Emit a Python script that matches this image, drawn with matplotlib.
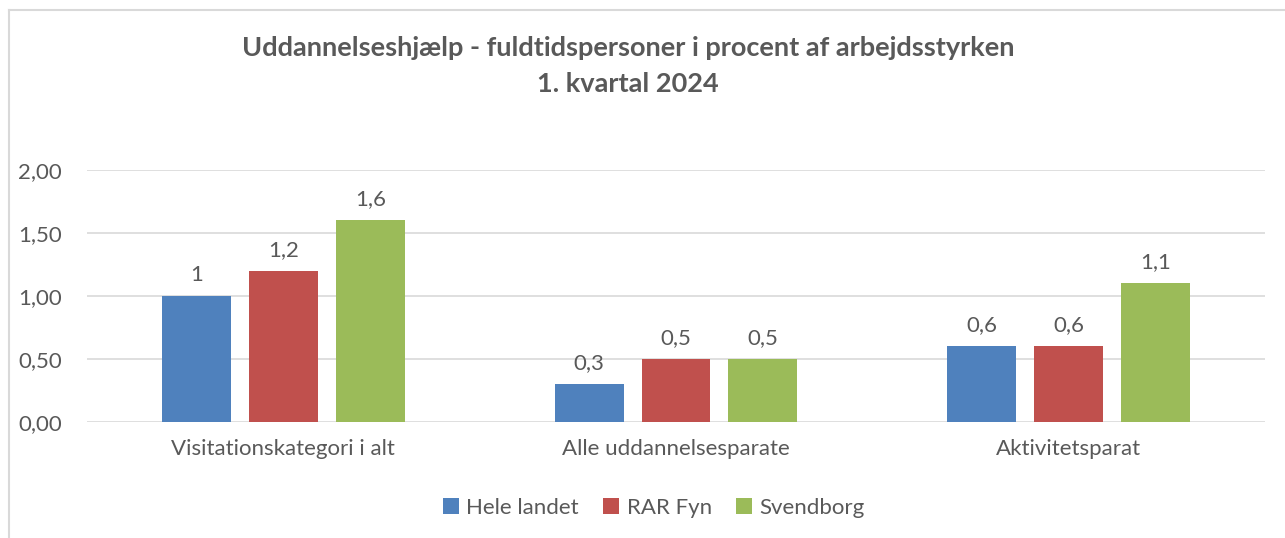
import numpy as np
import matplotlib
matplotlib.use("Agg")
import matplotlib.pyplot as plt
from matplotlib.lines import Line2D

categories = ["Visitationskategori i alt", "Alle uddannelsesparate", "Aktivitetsparat"]
series_names = ["Hele landet", "RAR Fyn", "Svendborg"]
hele_landet = [1.0, 0.3, 0.6]
rar_fyn = [1.2, 0.5, 0.6]
svendborg = [1.6, 0.5, 1.1]
labels_hele = ["1", "0,3", "0,6"]
labels_rar = ["1,2", "0,5", "0,6"]
labels_svend = ["1,6", "0,5", "1,1"]
yticks = [0.0, 0.5, 1.0, 1.5, 2.0]
ytick_labels = ["0,00", "0,50", "1,00", "1,50", "2,00"]

colors = ["#4F81BD", "#C0504D", "#9BBB59"]
txt = "#595959"
plt.rcParams['font.family'] = ['Lato', 'DejaVu Sans']
fs = 16

fig = plt.figure(figsize=(12.85, 5.38), dpi=100)
ax = fig.add_axes([87/1285, 1-422/538, (1265-87)/1285, (422-170)/538])

x = np.arange(len(categories))
width = 0.1757
step = 0.2215
all_vals = [hele_landet, rar_fyn, svendborg]
all_labels = [labels_hele, labels_rar, labels_svend]
for i in range(3):
    bars = ax.bar(x + (i-1)*step, all_vals[i], width, color=colors[i], label=series_names[i], zorder=3)
    for rect, lab in zip(bars, all_labels[i]):
        ax.annotate(lab, xy=(rect.get_x()+rect.get_width()/2, rect.get_height()),
                    xytext=(0, 8), textcoords="offset points", ha='center', va='bottom',
                    fontsize=fs, color=txt)

ax.set_xlim(-0.5, 2.5)
ax.set_ylim(0, 2.0)
ax.set_yticks(yticks)
ax.set_yticklabels(ytick_labels, fontsize=fs, color=txt)
ax.set_xticks(x)
ax.set_xticklabels(categories, fontsize=fs, color=txt)
ax.tick_params(length=0)
ax.tick_params(axis='y', pad=18)
ax.tick_params(axis='x', pad=12)
ax.grid(axis='y', color='#D9D9D9', linewidth=1.2, zorder=0)
for s in ax.spines.values():
    s.set_visible(False)

fig.text(628/1285, 1-48/538, "Uddannelseshjælp - fuldtidspersoner i procent af arbejdsstyrken",
         ha='center', va='center', fontsize=19.5, fontweight='bold', color=txt)
fig.text(628/1285, 1-84/538, "1. kvartal 2024",
         ha='center', va='center', fontsize=19.5, fontweight='bold', color=txt)

fig.legend(loc='center', bbox_to_anchor=(654/1285, 1-508/538), ncol=3, frameon=False,
           fontsize=fs, labelcolor=txt, handlelength=0.7, handleheight=0.7,
           handletextpad=0.35, columnspacing=1.1)

# chart frame (left and top edges visible)
fig.add_artist(Line2D([9/1285, 9/1285], [0, 1-10/538], transform=fig.transFigure, color='#D9D9D9', lw=1.5))
fig.add_artist(Line2D([9/1285, 1], [1-10/538, 1-10/538], transform=fig.transFigure, color='#D9D9D9', lw=1.5))

fig.savefig("out.png", dpi=100, facecolor='white')
